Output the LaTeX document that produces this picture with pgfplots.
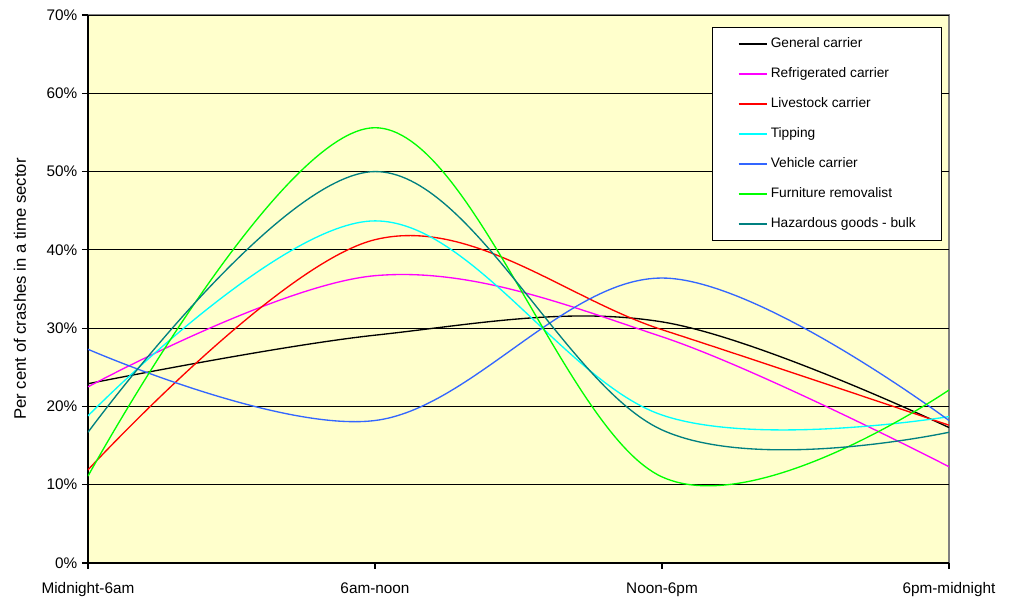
\documentclass[border=0pt]{standalone}
\usepackage{fontspec}
\setmainfont{Liberation Sans}
\usepackage{pgfplots}
\pgfplotsset{compat=1.18}
\definecolor{bgyellow}{HTML}{FFFFCC}
\definecolor{colVehicle}{HTML}{3366FF}
\definecolor{colHazard}{HTML}{008080}
\definecolor{colMagenta}{HTML}{FF00FF}
\definecolor{colCyan}{HTML}{00FFFF}
\definecolor{colGreen}{HTML}{00FF00}
\definecolor{colRed}{HTML}{FF0000}
\begin{document}
\begin{tikzpicture}
\useasboundingbox (-66pt,-27pt) rectangle (691.5pt,422.25pt);
\begin{axis}[
  scale only axis, width=645.75pt, height=411pt,
  at={(0pt,0pt)}, anchor=south west,
  xmin=0, xmax=3, ymin=0, ymax=70,
  axis x line*=bottom, axis y line*=left,
  axis line style={-, black, line width=0.8pt},
  axis background/.style={fill=bgyellow, draw=gray, line width=0.8pt},
  xtick={0,1,2,3},
  xticklabels={Midnight-6am,6am-noon,Noon-6pm,6pm-midnight},
  ytick={0,10,...,70},
  yticklabels={0\%,10\%,20\%,30\%,40\%,50\%,60\%,70\%},
  tick align=outside, major tick length=4.5pt,
  tick style={black, line width=0.8pt},
  ymajorgrids, major grid style={black, line width=0.6pt},
  ticklabel style={font=\fontsize{11.5}{13}\selectfont},
  xticklabel style={yshift=-6.5pt},
  ylabel={Per cent of crashes in a time sector},
  ylabel style={at={(axis description cs:-0.079,0.5)}, anchor=center, rotate=0, font=\fontsize{12.5}{14}\selectfont},
  legend cell align=left,
  legend image code/.code={\draw[#1, line width=1.3pt] (0pt,0pt) -- (21pt,0pt);},
  legend style={at={(rel axis cs:0.7247,0.9781)}, anchor=north west,
    draw=black, fill=white, line width=0.6pt,
    font=\fontsize{10.3}{12}\selectfont,
    inner xsep=19pt, inner ysep=7.5pt, row sep=12.5pt,
    nodes={inner sep=0pt, text height=7.5pt, text depth=2.5pt},
    column sep=2.5pt},
  every axis plot/.append style={smooth, tension=0.6, line width=1pt, no markers},
]
\addplot[color=black] coordinates {(0,22.9)(1,29.1)(2,30.8)(3,17.3)};
\addlegendentry{General carrier}
\addplot[color=colMagenta] coordinates {(0,22.5)(1,36.7)(2,28.9)(3,12.3)};
\addlegendentry{Refrigerated carrier}
\addplot[color=colRed] coordinates {(0,11.9)(1,41.3)(2,29.8)(3,17.6)};
\addlegendentry{Livestock carrier}
\addplot[color=colCyan] coordinates {(0,18.8)(1,43.7)(2,18.9)(3,18.7)};
\addlegendentry{Tipping}
\addplot[color=colVehicle] coordinates {(0,27.3)(1,18.2)(2,36.4)(3,18.2)};
\addlegendentry{Vehicle carrier}
\addplot[color=colGreen] coordinates {(0,11.1)(1,55.6)(2,11.0)(3,22.1)};
\addlegendentry{Furniture removalist}
\addplot[color=colHazard] coordinates {(0,16.7)(1,50.0)(2,17.0)(3,16.7)};
\addlegendentry{Hazardous goods - bulk}
\end{axis}
\end{tikzpicture}
\end{document}
